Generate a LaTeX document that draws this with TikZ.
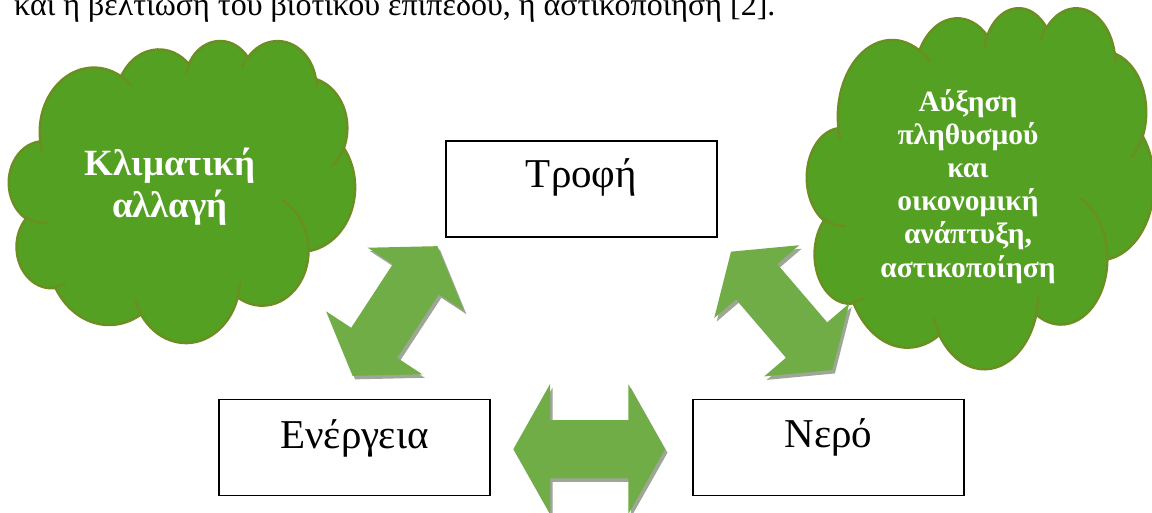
\documentclass[tikz,border=0pt]{standalone}
\usepackage{fontspec}
\setmainfont{Liberation Serif}
\definecolor{cloudgreen}{RGB}{84,160,34}
\definecolor{cloudedge}{RGB}{107,142,35}
\definecolor{arrowgreen}{RGB}{112,173,71}
\definecolor{shadowgray}{RGB}{158,166,150}
\tikzset{
  declare function={pa(\xra,\xrb,\xth)=\xth+atan((\xra-\xrb)*sin(\xth)*cos(\xth)/(\xrb*cos(\xth)*cos(\xth)+\xra*sin(\xth)*sin(\xth)));},
  box/.style={draw=black, line width=1.8pt, fill=white, minimum width=271pt, minimum height=96pt, inner sep=0pt},
  boxtext/.style={font=\fontsize{41}{47}\selectfont, inner sep=0pt, anchor=base},
  cloudbody/.style={fill=cloudgreen, draw=cloudedge, line width=2.4pt, line join=round},
  cloudline/.style={draw=cloudedge, line width=2.4pt, line cap=round},
  arrowbody/.style={fill=arrowgreen},
  arrowshadow/.style={fill=shadowgray},
  cloudtext/.style={text=white, align=center, inner sep=0pt, anchor=base}
}
\newcommand\cloudoutline{%
(3.9,14.37)
arc[x radius=6.753,y radius=9.19,start angle={pa(6.753,9.19,-190.48748)},end angle={pa(6.753,9.19,-66.70695)}]
arc[x radius=5.333,y radius=7.267,start angle={pa(5.333,7.267,-144.10238)},end angle={pa(5.333,7.267,-54.15715)}]
arc[x radius=4.365,y radius=5.945,start angle={pa(4.365,5.945,-145.80792)},end angle={pa(4.365,5.945,-46.0849)}]
arc[x radius=4.857,y radius=6.595,start angle={pa(4.857,6.595,-130.98607)},end angle={pa(4.857,6.595,-13.74434)}]
arc[x radius=5.333,y radius=7.273,start angle={pa(5.333,7.273,-78.70888)},end angle={pa(5.333,7.273,30.31804)}]
arc[x radius=6.775,y radius=9.22,start angle={pa(6.775,9.22,-46.26725)},end angle={pa(6.775,9.22,84.00175)}]
arc[x radius=5.785,y radius=7.867,start angle={pa(5.785,7.867,0.62502)},end angle={pa(5.785,7.867,114.65835)}]
arc[x radius=6.752,y radius=9.215,start angle={pa(6.752,9.215,22.4516)},end angle={pa(6.752,9.215,137.62415)}]
arc[x radius=7.72,y radius=10.543,start angle={pa(7.72,10.543,66.24263)},end angle={pa(7.72,10.543,141.95365)}]
arc[x radius=4.36,y radius=5.918,start angle={pa(4.36,5.918,-274.94208)},end angle={pa(4.36,5.918,-128.20651)}]
arc[x radius=4.345,y radius=5.945,start angle={pa(4.345,5.945,-246.8285)},end angle={pa(4.345,5.945,-94.30965)}]
-- cycle}
\newcommand\cloudinner{%
(4.693,26.177) arc[x radius=4.345,y radius=5.945,start angle={pa(4.345,5.945,86.742)},end angle={pa(4.345,5.945,113.1715)}]
(6.928,34.899) arc[x radius=4.36,y radius=5.918,start angle={pa(4.36,5.918,73.61047)},end angle={pa(4.36,5.918,85.05794)}]
(16.478,39.09) arc[x radius=6.752,y radius=9.215,start angle={pa(6.752,9.215,137.62415)},end angle={pa(6.752,9.215,151.70525)}]
(28.827,34.751) arc[x radius=6.752,y radius=9.215,start angle={pa(6.752,9.215,6.45327)},end angle={pa(6.752,9.215,22.45162)}]
(34.129,22.954) arc[x radius=5.785,y radius=7.867,start angle={pa(5.785,7.867,-70.29235)},end angle={pa(5.785,7.867,0.62502)}]
(41.798,15.354) arc[x radius=5.333,y radius=7.273,start angle={pa(5.333,7.273,30.31803)},end angle={pa(5.333,7.273,58.06953)}]
(38.324,5.426) arc[x radius=4.857,y radius=6.595,start angle={pa(4.857,6.595,-13.74433)},end angle={pa(4.857,6.595,1.10809)}]
(29.078,3.952) arc[x radius=4.857,y radius=6.595,start angle={pa(4.857,6.595,-149.18145)},end angle={pa(4.857,6.595,-130.99032)}]
(22.141,4.72) arc[x radius=4.365,y radius=5.945,start angle={pa(4.365,5.945,-163.49427)},end angle={pa(4.365,5.945,-145.75104)}]
(14,5.192) arc[x radius=6.753,y radius=9.19,start angle={pa(6.753,9.19,-66.70695)},end angle={pa(6.753,9.19,-54.3876)}]
(4.127,15.789) arc[x radius=6.753,y radius=9.19,start angle={pa(6.753,9.19,157.65435)},end angle={pa(6.753,9.19,169.51252)}]
}
% block arrow: #1 cx, #2 cy, #3 angle, #4 shaft half length, #5 shaft half width, #6 head half width, #7 head length
\newcommand\drawblock[7]{%
  \begin{scope}[shift={(#1+2.5,#2+3.5)},rotate=#3]
    \fill[arrowshadow] (-#4-#7,0) -- (-#4,-#6) -- (-#4,-#5) -- (#4,-#5) -- (#4,-#6) -- (#4+#7,0) -- (#4,#6) -- (#4,#5) -- (-#4,#5) -- (-#4,#6) -- cycle;
  \end{scope}
  \begin{scope}[shift={(#1,#2)},rotate=#3]
    \fill[arrowbody] (-#4-#7,0) -- (-#4,-#6) -- (-#4,-#5) -- (#4,-#5) -- (#4,-#6) -- (#4+#7,0) -- (#4,#6) -- (#4,#5) -- (-#4,#5) -- (-#4,#6) -- cycle;
  \end{scope}}
\begin{document}
\begin{tikzpicture}[x=1pt,y=-1pt]
\useasboundingbox (0,0) rectangle (1152,512);
\clip (0,0) rectangle (1152,512);
% intro text (cut off at the top)
\node[anchor=base west, inner sep=0pt, font=\fontsize{32}{38}\selectfont] (intro) at (14,15) {και η βελτίωση του βιοτικού επιπέδου, η αστικοποίηση [2].};
% clouds
\begin{scope}[shift={(9,40)}, x={(8.009pt,0pt)}, y={(0pt,-6.991pt)}]
  \draw[cloudbody] \cloudoutline;
  \draw[cloudline] \cloudinner;
\end{scope}
\begin{scope}[shift={(807,7)}, x={(8.03pt,0pt)}, y={(0pt,-8.356pt)}]
  \draw[cloudbody] \cloudoutline;
  \draw[cloudline] \cloudinner;
\end{scope}
\node[cloudtext, font=\fontsize{37}{42}\selectfont\bfseries] (climate) at (170,217) {Κλιματική\\αλλαγή};
\node[cloudtext, font=\fontsize{29.5}{33.2}\selectfont\bfseries] (growth) at (968,277) {Αύξηση\\πληθυσμού\\και\\οικονομική\\ανάπτυξη,\\αστικοποίηση};
% block arrows
\drawblock{395}{311}{56.8}{38}{27.5}{57.5}{39.5}
\drawblock{781.7}{310.8}{-49.4}{38.4}{27}{56}{39.5}
\drawblock{589.15}{449.15}{0}{39.15}{29.15}{65}{36.7}
% boxes
\node[box] (food) at (581.5,189) {};
\node[box] (energy) at (354.5,447.5) {};
\node[box] (water) at (828.5,447.5) {};
\node[boxtext] (foodt) at ([yshift=-47.5pt]food.north) {Τροφή};
\node[boxtext] (energyt) at ([yshift=-49.5pt]energy.north) {Ενέργεια};
\node[boxtext] (watert) at ([yshift=-48.5pt]water.north) {Νερό};
\end{tikzpicture}
\end{document}
